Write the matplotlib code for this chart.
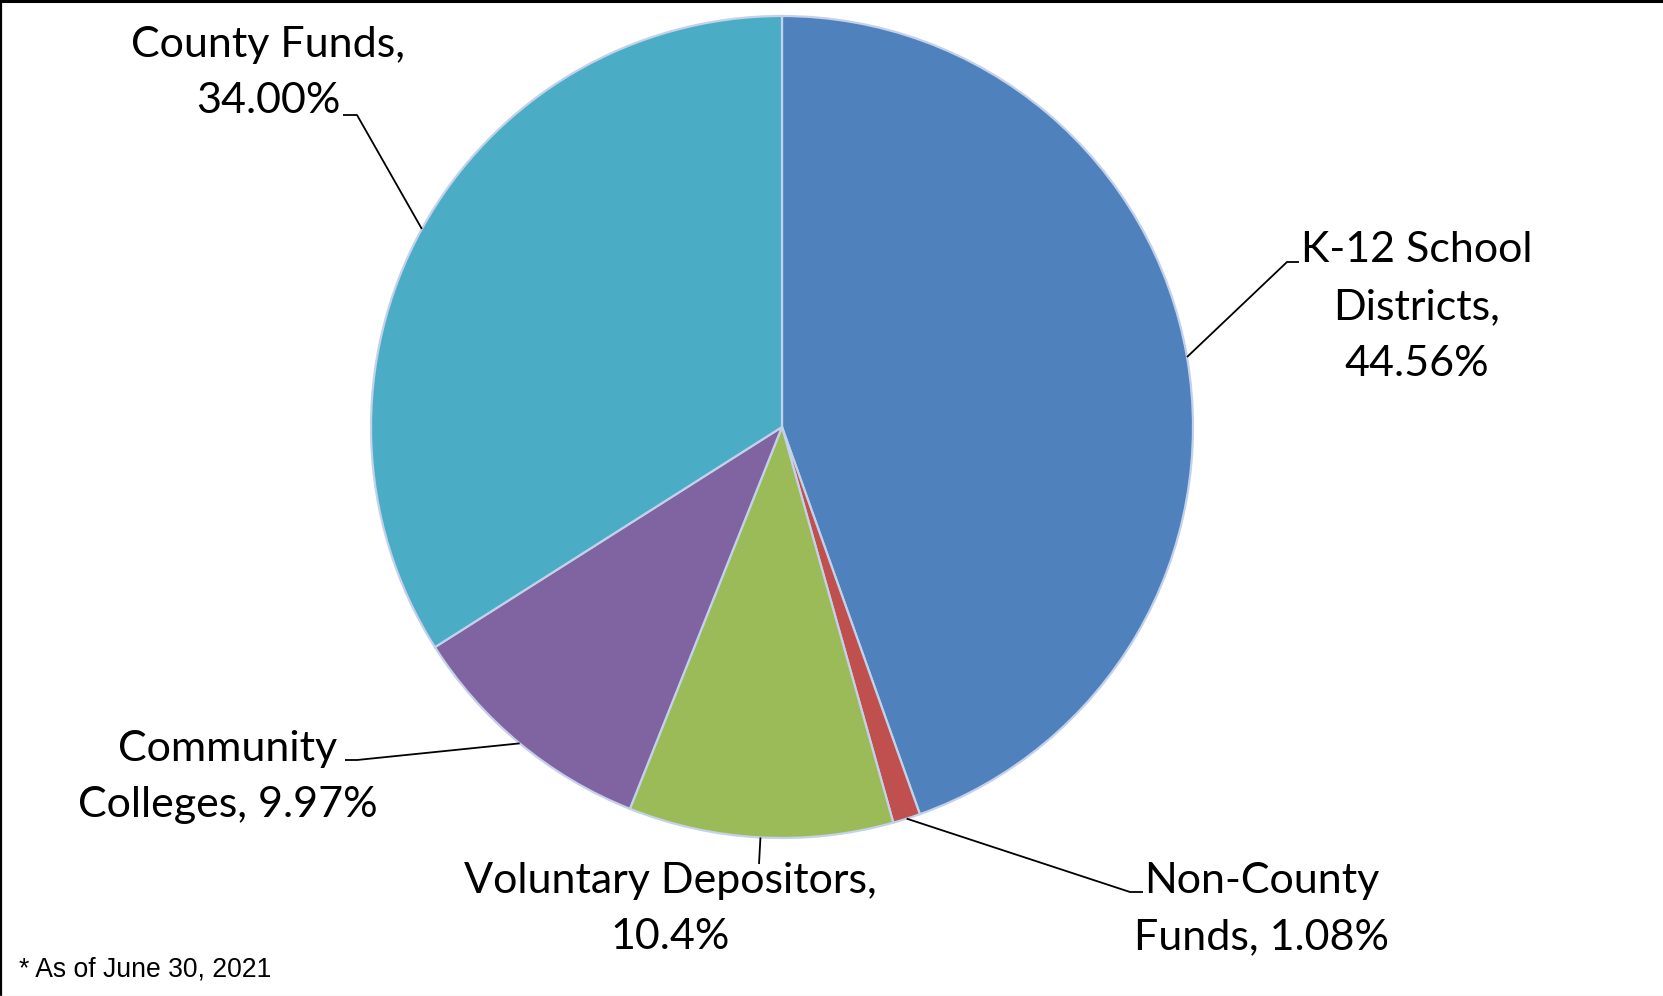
import numpy as np
import matplotlib
matplotlib.use("Agg")
import matplotlib.pyplot as plt
from matplotlib.lines import Line2D

categories = ["K-12 School Districts", "Non-County Funds", "Voluntary Depositors", "Community Colleges", "County Funds"]
values = [44.56, 1.08, 10.4, 9.97, 34.00]
value_labels = ["44.56%", "1.08%", "10.4%", "9.97%", "34.00%"]
colors = ["#4F81BD", "#C0504D", "#9BBB59", "#8064A2", "#4BACC6"]

W, H = 1663, 996
fig = plt.figure(figsize=(W / 100, H / 100), dpi=100)
ax = fig.add_axes([0, 0, 1, 1])

cx, cy, R = 782, H - 427, 411
wedges, _ = ax.pie(values, center=(cx, cy), radius=R, startangle=90,
                   counterclock=False, colors=colors,
                   wedgeprops=dict(edgecolor="#C3D1EA", linewidth=1.6),
                   frame=True)
ax.set_xlim(0, W)
ax.set_ylim(0, H)
ax.set_aspect("equal")
ax.axis("off")

# label text positions (pixel coords from top) and leader elbows
label_pos = [(1417, 307), (1262, 909), (670, 909), (228, 777), (268, 73)]
elbows = [[(1287, 262), (1299, 262)],
          [(1130, 892), (1143, 892)],
          [(759, 864)],
          [(357, 760), (345, 760)],
          [(357, 115), (343, 115)]]
texts = ["K-12 School\nDistricts,\n" + value_labels[0],
         "Non-County\nFunds, " + value_labels[1],
         "Voluntary Depositors,\n" + value_labels[2],
         "Community\nColleges, " + value_labels[3],
         "County Funds,\n" + value_labels[4]]

for w, (lx, ly), el, t in zip(wedges, label_pos, elbows, texts):
    mid = np.deg2rad((w.theta1 + w.theta2) / 2)
    ax_ = cx + R * np.cos(mid)
    ay_ = cy + R * np.sin(mid)
    xs = [ax_] + [p[0] for p in el]
    ys = [ay_] + [H - p[1] for p in el]
    ax.plot(xs, ys, color="black", lw=1.3, solid_capstyle="butt")
    ax.text(lx, H - ly, t, ha="center", va="center", fontsize=31,
            family=["Lato", "DejaVu Sans"], linespacing=1.6, color="black")

ax.text(19, H - 970, "* As of June 30, 2021", ha="left", va="center",
        fontsize=19.1, family=["Liberation Sans", "DejaVu Sans"], color="black")

# border lines
fig.add_artist(Line2D([0, 1], [1 - 1.5 / H, 1 - 1.5 / H], transform=fig.transFigure, color="black", lw=2.2))
fig.add_artist(Line2D([1 / W, 1 / W], [0, 1], transform=fig.transFigure, color="black", lw=1.6))
fig.add_artist(Line2D([0, 1], [0.5 / H, 0.5 / H], transform=fig.transFigure, color="#E6E6E6", lw=1))

fig.savefig("out.png", dpi=100)
